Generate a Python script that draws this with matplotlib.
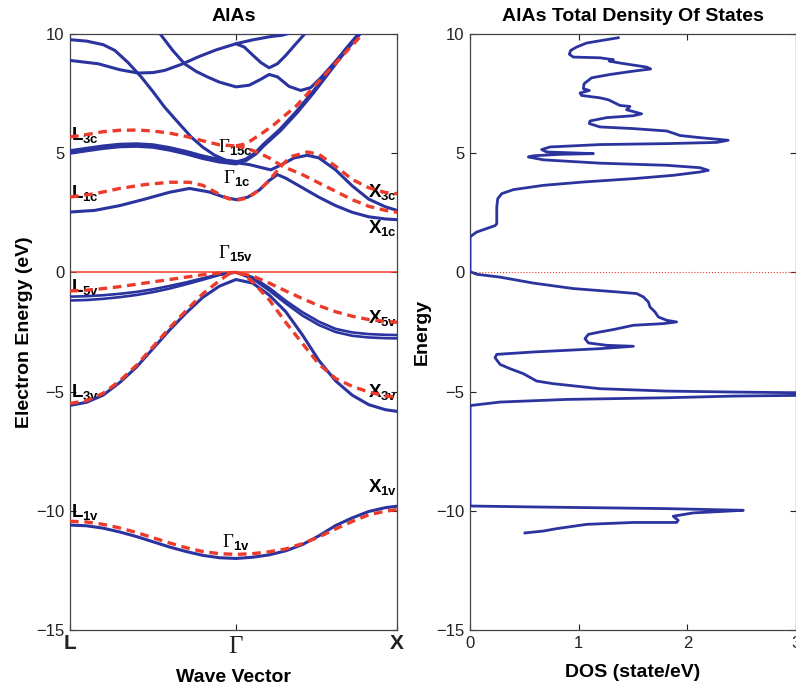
import numpy as np
import matplotlib
matplotlib.use("Agg")
import matplotlib.pyplot as plt

plt.rcParams['font.family'] = ['Liberation Sans', 'DejaVu Sans']
plt.rcParams['mathtext.fontset'] = 'custom'
plt.rcParams['mathtext.rm'] = 'Liberation Serif'
plt.rcParams['mathtext.bf'] = 'Liberation Sans:bold'
plt.rcParams['mathtext.sf'] = 'Liberation Sans'

BLUE = '#2b349e'
RED = '#ec3b2a'

# high-symmetry points along the path
k_labels = [r'$\mathbf{L}$', r'$\mathrm{\Gamma}$', r'$\mathbf{X}$']
k_ticks = [0.0, 1.0, 1.97]

# ---- calculated bands (solid) ----
k_full = [0, 0.1, 0.2, 0.3, 0.4, 0.5, 0.6, 0.7, 0.8, 0.9, 1.0,
          1.1, 1.2, 1.3, 1.4, 1.5, 1.6, 1.7, 1.8, 1.9, 1.97]
e_x1v = [-10.6, -10.63, -10.73, -10.89, -11.08, -11.3, -11.52, -11.71, -11.87, -11.97, -12.0,
         -11.95, -11.85, -11.68, -11.42, -11.05, -10.62, -10.3, -10.03, -9.87, -9.81]
e_split = [-5.58, -5.45, -5.15, -4.62, -3.98, -3.2, -2.42, -1.7, -1.05, -0.58, -0.3,
           -0.45, -0.95, -1.65, -2.62, -3.7, -4.55, -5.15, -5.55, -5.76, -5.83]
e_hh = [-1.02, -1.0, -0.96, -0.9, -0.82, -0.71, -0.57, -0.42, -0.25, -0.08, 0.0,
        -0.2, -0.65, -1.19, -1.67, -2.07, -2.37, -2.52, -2.59, -2.62, -2.63]
e_lh = [-1.18, -1.16, -1.11, -1.04, -0.95, -0.83, -0.68, -0.5, -0.31, -0.11, 0.0,
        -0.27, -0.76, -1.3, -1.81, -2.21, -2.5, -2.66, -2.73, -2.76, -2.77]

k_x1c = [0, 0.15, 0.3, 0.45, 0.6, 0.72, 0.84, 0.93, 1.0, 1.07, 1.14, 1.2, 1.25, 1.3,
         1.4, 1.5, 1.6, 1.7, 1.8, 1.9, 1.97]
e_x1c = [2.53, 2.6, 2.8, 3.07, 3.36, 3.52, 3.37, 3.15, 3.05, 3.15, 3.45, 3.85, 4.1, 3.95,
         3.55, 3.15, 2.8, 2.52, 2.33, 2.24, 2.21]

k_l3c = [0, 0.1, 0.2, 0.3, 0.4, 0.5, 0.6, 0.7, 0.8, 0.9, 1.0]
e_l3c = [5.05, 5.15, 5.25, 5.32, 5.34, 5.3, 5.18, 5.02, 4.83, 4.68, 4.6]

k_x3c = [1.0, 1.08, 1.15, 1.21, 1.27, 1.35, 1.43, 1.5, 1.6, 1.7, 1.8, 1.9, 1.97]
e_x3c = [4.6, 4.52, 4.4, 4.3, 4.5, 4.8, 4.91, 4.8, 4.3, 3.63, 3.07, 2.75, 2.6]

k_x5c = [1.0, 1.06, 1.12, 1.165, 1.265, 1.366, 1.466, 1.566, 1.667, 1.727, 1.8]
e_x5c = [4.6, 4.72, 5.0, 5.33, 5.96, 6.72, 7.56, 8.47, 9.38, 9.87, 10.5]

k_upper_a = [0, 0.1, 0.2, 0.27, 0.35, 0.43, 0.5, 0.57, 0.65, 0.73, 0.8, 0.87, 0.94, 1.0]
e_upper_a = [9.76, 9.7, 9.55, 9.31, 8.8, 8.19, 7.58, 6.93, 6.3, 5.68, 5.25, 4.92, 4.7, 4.62]

k_upper_b = [0, 0.17, 0.3, 0.41, 0.5, 0.57, 0.67, 0.77, 0.88, 1.0, 1.1, 1.2, 1.28, 1.36]
e_upper_b = [8.89, 8.75, 8.5, 8.36, 8.38, 8.47, 8.72, 9.03, 9.33, 9.59, 9.75, 9.88, 9.95, 10.1]

k_upper_c = [0.5, 0.55, 0.62, 0.69, 0.76, 0.83, 0.9, 1.0, 1.08, 1.15, 1.2, 1.25, 1.32,
             1.39, 1.45, 1.51, 1.6, 1.7, 1.76]
e_upper_c = [10.4, 9.94, 9.3, 8.75, 8.43, 8.19, 7.98, 7.78, 7.85, 8.1, 8.3, 8.2, 7.8,
             7.63, 7.75, 8.15, 8.85, 9.65, 10.15]

k_upper_d = [1.0, 1.05, 1.1, 1.15, 1.2, 1.25, 1.3, 1.35, 1.41, 1.45]
e_upper_d = [9.59, 9.45, 9.12, 8.8, 8.58, 8.75, 9.1, 9.5, 9.97, 10.3]

# ---- reference bands (dashed) ----
r_x1v = [-10.44, -10.47, -10.57, -10.72, -10.91, -11.13, -11.35, -11.55, -11.71, -11.8, -11.83,
         -11.8, -11.72, -11.6, -11.38, -11.1, -10.76, -10.45, -10.17, -10.02, -9.95]
k_r3v = [0, 0.1, 0.2, 0.3, 0.4, 0.5, 0.6, 0.7, 0.8, 0.9, 0.95, 1.0, 1.05,
         1.1, 1.2, 1.3, 1.4, 1.5, 1.6, 1.7, 1.8, 1.9, 1.97]
r_3v = [-5.5, -5.38, -5.07, -4.55, -3.9, -3.12, -2.33, -1.6, -0.9, -0.35, -0.1, 0.0, -0.1,
        -0.4, -1.15, -2.1, -2.98, -3.85, -4.45, -4.78, -5.02, -5.18, -5.25]
r_5v = [-0.78, -0.75, -0.68, -0.6, -0.5, -0.4, -0.3, -0.2, -0.1, -0.03, 0.0,
        -0.15, -0.45, -0.78, -1.1, -1.4, -1.65, -1.84, -1.98, -2.06, -2.09]

k_r1c = [0, 0.15, 0.3, 0.45, 0.6, 0.72, 0.8, 0.88, 0.95, 1.0, 1.07, 1.14, 1.2, 1.27,
         1.33, 1.43, 1.5, 1.6, 1.7, 1.8, 1.9, 1.97]
r_1c = [3.16, 3.3, 3.52, 3.68, 3.78, 3.78, 3.65, 3.35, 3.1, 3.02, 3.12, 3.45, 3.85, 4.45,
        4.85, 5.05, 4.95, 4.45, 3.9, 3.55, 3.35, 3.3]

r_l3c = [5.68, 5.78, 5.9, 5.96, 5.97, 5.93, 5.84, 5.7, 5.52, 5.35, 5.3]

k_rx3c = [1.0, 1.07, 1.14, 1.2, 1.28, 1.4, 1.5, 1.6, 1.7, 1.8, 1.9, 1.97]
r_x3c = [5.3, 5.2, 5.0, 4.8, 4.45, 4.1, 3.75, 3.4, 3.05, 2.77, 2.6, 2.52]

k_rx5c = [1.0, 1.05, 1.084, 1.15, 1.225, 1.366, 1.486, 1.607, 1.737, 1.8]
r_x5c = [5.3, 5.38, 5.5, 5.8, 6.17, 7.0, 7.91, 8.82, 9.8, 10.3]

# symmetry labels: text, k, energy (baseline)
point_labels = [
    (r'$\mathbf{L}_{\mathbf{3c}}$', 0.008, 5.54),
    (r'$\mathbf{L}_{\mathbf{1c}}$', 0.008, 3.1),
    (r'$\mathbf{L}_{\mathbf{5v}}$', 0.008, -0.84),
    (r'$\mathbf{L}_{\mathbf{3v}}$', 0.008, -5.24),
    (r'$\mathbf{L}_{\mathbf{1v}}$', 0.008, -10.28),
    (r'$\mathrm{\Gamma}_{\mathbf{15c}}$', 0.89, 5.03),
    (r'$\mathrm{\Gamma}_{\mathbf{1c}}$', 0.92, 3.73),
    (r'$\mathrm{\Gamma}_{\mathbf{15v}}$', 0.89, 0.59),
    (r'$\mathrm{\Gamma}_{\mathbf{1v}}$', 0.915, -11.53),
    (r'$\mathbf{X}_{\mathbf{3c}}$', 1.795, 3.15),
    (r'$\mathbf{X}_{\mathbf{1c}}$', 1.795, 1.64),
    (r'$\mathbf{X}_{\mathbf{5v}}$', 1.795, -2.14),
    (r'$\mathbf{X}_{\mathbf{3v}}$', 1.795, -5.24),
    (r'$\mathbf{X}_{\mathbf{1v}}$', 1.795, -9.23),
]

# ---- total density of states ----
dos_energy = [9.84, 9.76, 9.62, 9.45, 9.31, 9.15, 9.03, 9.0, 8.92, 8.86, 8.78, 8.61, 8.53,
              8.44, 8.3, 8.16, 7.91, 7.7, 7.63, 7.52, 7.42, 7.32, 7.24, 7.0, 6.96, 6.82,
              6.65, 6.57, 6.49, 6.35, 6.24, 6.1, 6.03, 5.93, 5.84, 5.74, 5.65, 5.54, 5.45,
              5.4, 5.36, 5.26, 5.15, 5.05, 4.98, 4.95, 4.89, 4.84, 4.72, 4.58, 4.49, 4.39,
              4.28, 4.21, 4.07, 3.93, 3.79, 3.65, 3.47, 3.3, 3.09, 2.74, 2.04, 1.96, 1.69,
              1.51, 1.45, 0.03, -0.08, -0.2, -0.45, -0.68, -0.82, -0.89, -1.03, -1.24,
              -1.45, -1.66, -1.87, -2.01, -2.08, -2.15, -2.22, -2.4, -2.5, -2.6, -2.78,
              -2.96, -3.06, -3.1, -3.2, -3.34, -3.44, -3.58, -3.86, -4.04, -4.25, -4.56,
              -4.67, -4.88, -4.98, -5.02, -5.05, -5.16, -5.19, -5.26, -5.33, -5.44, -5.58,
              -5.61, -9.8, -9.84, -9.91, -9.98, -10.04, -10.09, -10.23, -10.4, -10.49,
              -10.49, -10.57, -10.75, -10.85, -10.93]
dos_value = [1.364, 1.256, 1.073, 0.981, 0.926, 0.914, 0.95, 1.196, 1.319, 1.282, 1.38,
             1.625, 1.662, 1.503, 1.288, 1.119, 1.049, 1.043, 1.098, 1.012, 1.027, 1.196,
             1.273, 1.38, 1.472, 1.441, 1.579, 1.503, 1.257, 1.104, 1.098, 1.196, 1.503,
             1.809, 1.87, 1.932, 2.116, 2.376, 2.269, 1.809, 1.196, 0.736, 0.659, 0.705,
             1.135, 0.828, 0.583, 0.537, 0.675, 1.196, 1.809, 2.116, 2.193, 2.116, 1.87,
             1.503, 1.043, 0.675, 0.399, 0.291, 0.255, 0.246, 0.246, 0.23, 0.061, 0.006,
             0.0, 0.0, 0.061, 0.276, 0.583, 0.951, 1.35, 1.534, 1.595, 1.641, 1.656, 1.702,
             1.733, 1.809, 1.901, 1.779, 1.503, 1.319, 1.196, 1.089, 1.058, 1.089, 1.257,
             1.503, 1.196, 0.583, 0.246, 0.23, 0.276, 0.368, 0.491, 0.613, 0.767, 1.196,
             1.809, 2.423, 3.03, 3.03, 2.423, 1.809, 0.889, 0.276, 0.015, 0.0, 0.0, 0.583,
             1.809, 2.515, 2.269, 2.054, 1.87, 1.916, 1.901, 1.503, 1.073, 0.797, 0.675,
             0.506]

fig = plt.figure(figsize=(7.96, 6.9), dpi=100)
ax = fig.add_axes([0.0879, 0.087, 0.4108, 0.8638])
ax2 = fig.add_axes([0.5905, 0.087, 0.4095, 0.8638])

# band structure
solid = dict(color=BLUE, lw=2.2, solid_capstyle='round', zorder=3)
ax.plot(k_full, e_x1v, **solid)
ax.plot(k_full, e_split, **solid)
ax.plot(k_full, e_hh, color=BLUE, lw=1.9, zorder=3)
ax.plot(k_full, e_lh, color=BLUE, lw=1.9, zorder=3)
ax.plot(k_x1c, e_x1c, **solid)
ax.plot(k_l3c, e_l3c, color=BLUE, lw=4.0, solid_capstyle='round', zorder=3)
ax.plot(k_x3c, e_x3c, **solid)
ax.plot(k_x5c, e_x5c, color=BLUE, lw=3.2, solid_capstyle='round', zorder=3)
ax.plot(k_upper_a, e_upper_a, **solid)
ax.plot(k_upper_b, e_upper_b, **solid)
ax.plot(k_upper_c, e_upper_c, **solid)
ax.plot(k_upper_d, e_upper_d, **solid)

dashed = dict(color=RED, lw=2.4, ls=(0, (2.6, 1.7)), zorder=4)
ax.plot(k_full, r_x1v, **dashed)
ax.plot(k_r3v, r_3v, **dashed)
ax.plot(k_full, r_5v, **dashed)
ax.plot(k_r1c, r_1c, **dashed)
ax.plot(k_l3c, r_l3c, **dashed)
ax.plot(k_rx3c, r_x3c, **dashed)
ax.plot(k_rx5c, r_x5c, **dashed)

ax.axhline(0, color=RED, lw=1.1, zorder=2)

for txt, kk, ee in point_labels:
    ax.text(kk, ee, txt, fontsize=13.5, ha='left', va='baseline', color='black', zorder=2)

ax.set_xlim(k_ticks[0], k_ticks[-1])
ax.set_ylim(-15, 10)
ax.set_xticks(k_ticks)
ax.set_xticklabels(k_labels)
ax.set_yticks([-15, -10, -5, 0, 5, 10])
ax.set_title('AlAs', fontsize=14, fontweight='bold', pad=9)
ax.set_xlabel('Wave Vector', fontsize=14, fontweight='bold', labelpad=8)
ax.set_ylabel('Electron Energy (eV)', fontsize=14, fontweight='bold', labelpad=2)

# density of states
ax2.plot(dos_value, dos_energy, color=BLUE, lw=2.0, zorder=3)
ax2.axhline(0, color=RED, lw=0.8, ls=':', zorder=2)
ax2.set_xlim(0, 3)
ax2.set_ylim(-15, 10)
ax2.set_xticks([0, 1, 2, 3])
ax2.set_yticks([-15, -10, -5, 0, 5, 10])
ax2.set_title('AlAs Total Density Of States', fontsize=14, fontweight='bold', pad=9)
ax2.set_xlabel('DOS (state/eV)', fontsize=14, fontweight='bold', labelpad=10)
ax2.set_ylabel('Energy', fontsize=14, fontweight='bold', labelpad=4)

for a in (ax, ax2):
    a.tick_params(direction='in', length=4, width=0.8, top=True, right=True,
                  labelsize=12, colors='#222222', pad=4)
    for s in a.spines.values():
        s.set_linewidth(0.9)
        s.set_color('#444444')
ax.tick_params(axis='x', labelsize=15, pad=3)
# the serif Gamma reads small next to the bold L and X
ax.get_xticklabels()[1].set_fontsize(18)

fig.savefig('out.png', dpi=100)
